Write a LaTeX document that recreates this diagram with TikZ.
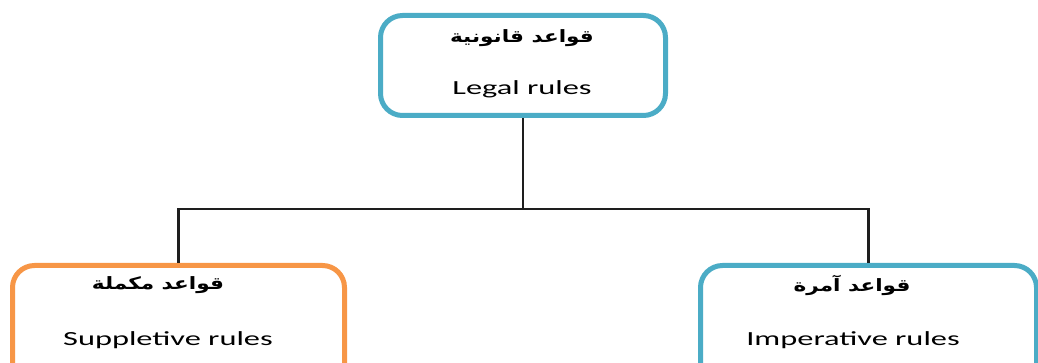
\documentclass[tikz,border=0pt]{standalone}
\usepackage{fontspec}
\usepackage{graphicx}
\setmainfont{Carlito}
\newfontfamily\arabicfont[Script=Arabic]{DejaVu Sans}
\TeXXeTstate=1
\definecolor{boxblue}{HTML}{4BACC6}
\definecolor{boxorange}{HTML}{F79646}
\definecolor{wire}{HTML}{1E1E1E}
\begin{document}
\begin{tikzpicture}[x=1pt,y=-1pt,
  rulebox/.style={draw, line width=5pt, rounded corners=22pt, fill=white, inner sep=0pt},
  artext/.style={inner sep=0pt, font=\arabicfont\bfseries\fontsize{17}{20}\selectfont},
  entext/.style={inner sep=0pt, font=\fontsize{20}{24}\selectfont},
  wireline/.style={draw=wire, line width=2.2pt}]
\useasboundingbox (0,0) rectangle (1038,363);
\clip (0,0) rectangle (1038,363);
% boxes
\node[rulebox, draw=boxblue, minimum width=285pt, minimum height=100pt] (legal) at (523,65.5) {};
\node[rulebox, draw=boxorange, minimum width=332pt, minimum height=130pt] (supp) at (178.5,330.5) {};
\node[rulebox, draw=boxblue, minimum width=336pt, minimum height=130pt] (imp) at (868.5,330.5) {};
% texts
\node[artext] (legalar) at (522,38) {\scalebox{1.27}[1]{\beginR قواعد قانونية\endR}};
\node[entext, anchor=base] (legalen) at (522,95) {\scalebox{1.62}[1]{Legal rules}};
\node[artext] (suppar) at (158,285) {\scalebox{1.27}[1]{\beginR قواعد مكملة\endR}};
\node[entext, anchor=base] (suppen) at (168,345) {\scalebox{1.62}[1]{Suppletive rules}};
\node[artext] (impar) at (852,285) {\scalebox{1.27}[1]{\beginR قواعد آمرة\endR}};
\node[entext, anchor=base] (impen) at (853,345) {\scalebox{1.62}[1]{Imperative rules}};
% connectors
\coordinate (bus) at (0,209);
\draw[wireline] (legal.south) -- (legal.south |- bus);
\draw[wireline] (supp.north) -- (supp.north |- bus) -- (imp.north |- bus) -- (imp.north);
\end{tikzpicture}
\end{document}
